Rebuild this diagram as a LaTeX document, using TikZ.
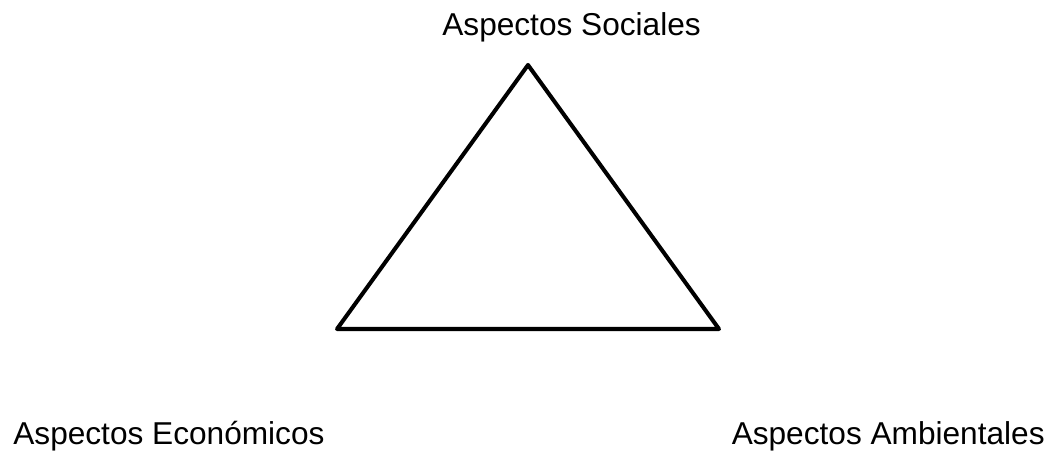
\documentclass[tikz,border=0pt]{standalone}
\usepackage{fontspec}
\setmainfont{Liberation Sans}
\usepackage{tikz}
\usetikzlibrary{positioning}

\begin{document}
\begin{tikzpicture}[
  x=0.02cm, y=-0.02cm,
  every node/.style={font=\fontsize{18}{22}\selectfont, inner sep=0pt},
  edge/.style={line width=2.3pt, line join=round, black}
]

\useasboundingbox (0,0) rectangle (1055,452);

% Vertices
\coordinate (soc) at (528,65);
\coordinate (eco) at (337,329);
\coordinate (amb) at (719,329);

% Triangle
\draw[edge] (soc) -- (eco) -- (amb) -- cycle;

% Labels
\node[anchor=base west] (lsoc) at (442,36) {Aspectos Sociales};
\node[anchor=base west] (leco) at (13,444) {Aspectos Económicos};
\node[anchor=base east] (lamb) at (1045,444) {Aspectos Ambientales};

\end{tikzpicture}
\end{document}
